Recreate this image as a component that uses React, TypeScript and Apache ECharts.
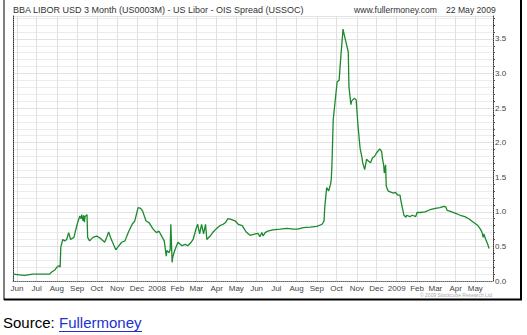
import React, { useEffect, useRef } from 'react';
import * as echarts from 'echarts';

const dates: string[] = [
  '2007-05-26','2007-06-05','2007-06-13','2007-06-25','2007-07-10','2007-07-21','2007-07-24','2007-07-29','2007-08-01','2007-08-04',
  '2007-08-06','2007-08-07','2007-08-10','2007-08-13','2007-08-16','2007-08-19','2007-08-22','2007-08-27','2007-09-01','2007-09-05',
  '2007-09-07','2007-09-08','2007-09-10','2007-09-11','2007-09-12','2007-09-13','2007-09-16','2007-09-17','2007-09-20','2007-09-25',
  '2007-10-01','2007-10-06','2007-10-13','2007-10-16','2007-10-19','2007-10-22','2007-10-25','2007-10-30','2007-11-02','2007-11-08',
  '2007-11-13','2007-11-18','2007-11-24','2007-11-28','2007-12-03','2007-12-07','2007-12-10','2007-12-15','2007-12-20','2007-12-26',
  '2007-12-31','2008-01-04','2008-01-09','2008-01-12','2008-01-15','2008-01-16','2008-01-19','2008-01-21','2008-01-22','2008-01-24',
  '2008-01-25','2008-01-28','2008-01-30','2008-02-02','2008-02-08','2008-02-13','2008-02-17','2008-02-22','2008-02-25','2008-03-01',
  '2008-03-03','2008-03-06','2008-03-09','2008-03-12','2008-03-15','2008-03-17','2008-03-22','2008-03-26','2008-04-01','2008-04-06',
  '2008-04-11','2008-04-15','2008-04-18','2008-04-23','2008-04-29','2008-05-04','2008-05-10','2008-05-14','2008-05-17','2008-05-22',
  '2008-05-30','2008-06-03','2008-06-06','2008-06-09','2008-06-11','2008-06-14','2008-06-18','2008-06-26','2008-07-07','2008-07-17',
  '2008-07-27','2008-08-03','2008-08-11','2008-08-22','2008-09-01','2008-09-09','2008-09-12','2008-09-13','2008-09-16','2008-09-19',
  '2008-09-22','2008-09-23','2008-09-24','2008-09-25','2008-09-26','2008-10-02','2008-10-05','2008-10-08','2008-10-11','2008-10-13',
  '2008-10-16','2008-10-19','2008-10-20','2008-10-23','2008-10-24','2008-10-28','2008-10-31','2008-11-03','2008-11-06','2008-11-09',
  '2008-11-10','2008-11-13','2008-11-16','2008-11-19','2008-11-22','2008-11-25','2008-11-28','2008-12-01','2008-12-06','2008-12-09',
  '2008-12-10','2008-12-12','2008-12-13','2008-12-15','2008-12-16','2008-12-19','2008-12-24','2008-12-27','2008-12-30','2009-01-03',
  '2009-01-06','2009-01-07','2009-01-10','2009-01-12','2009-01-15','2009-01-16','2009-01-21','2009-01-25','2009-01-30','2009-02-01',
  '2009-02-06','2009-02-13','2009-02-21','2009-03-01','2009-03-08','2009-03-14','2009-03-17','2009-03-19','2009-03-23','2009-03-31',
  '2009-04-08','2009-04-15','2009-04-21','2009-04-28','2009-05-04','2009-05-08','2009-05-11','2009-05-13','2009-05-14','2009-05-17',
  '2009-05-20','2009-05-22'
];

const spread: number[] = [
  0.10,0.09,0.08,0.10,0.10,0.10,0.13,0.16,0.20,0.22,
  0.20,0.49,0.60,0.58,0.60,0.70,0.60,0.63,0.82,0.94,
  0.90,0.96,0.87,0.95,0.85,0.93,0.96,0.63,0.58,0.63,
  0.65,0.62,0.56,0.63,0.71,0.63,0.56,0.45,0.49,0.56,
  0.58,0.70,0.82,0.87,1.06,1.05,1.01,0.87,0.84,0.75,
  0.70,0.72,0.63,0.58,0.36,0.44,0.41,0.45,0.82,0.27,
  0.35,0.44,0.49,0.56,0.51,0.53,0.51,0.56,0.60,0.77,
  0.82,0.68,0.82,0.68,0.82,0.60,0.65,0.70,0.76,0.80,
  0.82,0.85,0.90,0.89,0.87,0.82,0.80,0.74,0.70,0.66,
  0.68,0.69,0.64,0.70,0.65,0.70,0.72,0.74,0.75,0.76,
  0.75,0.75,0.77,0.78,0.79,0.82,0.87,1.06,1.35,1.30,
  1.40,1.47,1.66,2.00,2.33,2.88,2.90,3.29,3.64,3.55,
  3.43,3.31,2.81,2.55,2.60,2.64,2.62,2.23,1.92,1.78,
  1.71,1.61,1.76,1.73,1.71,1.78,1.80,1.85,1.91,1.87,
  1.78,1.68,1.56,1.68,1.37,1.30,1.28,1.27,1.28,1.24,
  1.24,1.18,1.04,0.95,0.92,0.95,0.93,0.95,0.93,0.99,
  0.99,1.00,1.03,1.05,1.06,1.08,1.07,1.02,1.01,0.98,
  0.95,0.93,0.90,0.85,0.81,0.76,0.71,0.63,0.68,0.60,
  0.53,0.47
];

const monthNames = ['Jan','Feb','Mar','Apr','May','Jun','Jul','Aug','Sep','Oct','Nov','Dec'];
const axisStart = '2007-05-26';
const axisEnd = '2009-05-28';
const yMax = 3.83;
const yStep = 0.5;

const titleText = 'BBA LIBOR USD 3 Month (US0003M) - US Libor - OIS Spread (USSOC)';
const siteText = 'www.fullermoney.com';
const dateText = '22 May 2009';
const copyrightText = '\u00A9 2009 Stockcube Research Ltd';
const sourceLabel = 'Source: ';
const sourceLink = 'Fullermoney';

const FONT = '"Liberation Sans", Arial, sans-serif';

function toTs(s: string): number {
  const [y, m, d] = s.split('-').map(Number);
  return new Date(y, m - 1, d).getTime();
}

export default function App() {
  const ref = useRef<HTMLDivElement>(null);
  useEffect(() => {
    if (!ref.current) return;
    const chart = echarts.init(ref.current, undefined, { renderer: 'svg' });
    const data = dates.map((d, i) => [toTs(d), spread[i]]);
    chart.setOption({
      animation: false,
      backgroundColor: '#ffffff',
      grid: { left: 13, right: 34, top: 16, bottom: 54 },
      xAxis: {
        type: 'time',
        min: toTs(axisStart),
        max: toTs(axisEnd),
        minInterval: 28 * 86400000,
        maxInterval: 31 * 86400000,
        axisLine: { show: true, lineStyle: { color: '#666', type: 'dotted', width: 1 } },
        axisTick: { show: false },
        splitLine: { show: true, lineStyle: { color: '#e0e0e0', width: 1 } },
        axisLabel: {
          fontSize: 8,
          fontFamily: FONT,
          color: '#444',
          margin: 3,
          showMinLabel: false,
          showMaxLabel: false,
          hideOverlap: false,
          formatter: (v: number) => {
            const d = new Date(v);
            return d.getMonth() === 0 ? String(d.getFullYear()) : monthNames[d.getMonth()];
          },
        },
      },
      yAxis: [
        {
          type: 'value',
          position: 'right',
          min: 0,
          max: yMax,
          interval: yStep,
          axisLine: { show: true, lineStyle: { color: '#333', type: 'dotted', width: 1 } },
          axisTick: { show: false },
          minorTick: { show: true, splitNumber: 5, length: 2, lineStyle: { color: '#555' } },
          splitLine: { show: true, lineStyle: { color: '#e2e2e2' } },
          minorSplitLine: { show: true, lineStyle: { color: '#ececec' } },
          axisLabel: {
            fontSize: 8,
            fontFamily: FONT,
            color: '#444',
            margin: 2,
            showMaxLabel: false,
            formatter: (v: number) => v.toFixed(1),
          },
        },
        {
          type: 'value',
          position: 'left',
          min: 0,
          max: yMax,
          interval: yStep,
          axisLine: { show: true, lineStyle: { color: '#333', type: 'dotted', width: 1 } },
          axisTick: { show: false },
          axisLabel: { show: false },
          splitLine: { show: false },
        },
      ],
      series: [
        {
          type: 'line',
          yAxisIndex: 0,
          data,
          showSymbol: false,
          lineStyle: { color: '#1b8a2c', width: 1.3 },
          itemStyle: { color: '#1b8a2c' },
        },
      ],
      graphic: [
        { type: 'line', shape: { x1: 4, y1: 0, x2: 4, y2: 300 }, style: { stroke: '#000', lineWidth: 1 } },
        { type: 'line', shape: { x1: 521, y1: 0, x2: 521, y2: 300 }, style: { stroke: '#000', lineWidth: 2 } },
        { type: 'line', shape: { x1: 4, y1: 299.5, x2: 522, y2: 299.5 }, style: { stroke: '#000', lineWidth: 2 } },
        { type: 'text', left: 13, top: 5, style: { text: titleText, fontSize: 9, fontFamily: FONT, fill: '#333' } },
        { type: 'text', left: 354, top: 5, style: { text: siteText, fontSize: 8.6, fontFamily: FONT, fill: '#333' } },
        { type: 'text', left: 446, top: 5, style: { text: dateText, fontSize: 8.6, fontFamily: FONT, fill: '#333' } },
        { type: 'text', left: 420, top: 292, style: { text: copyrightText, fontSize: 5, fontFamily: FONT, fill: '#aaa' } },
        { type: 'text', left: 3, top: 315, style: { text: sourceLabel, fontSize: 15, fontFamily: FONT, fill: '#000' } },
        { type: 'text', left: 59, top: 315, style: { text: sourceLink, fontSize: 15, fontFamily: FONT, fill: '#2233cc' } },
        { type: 'line', shape: { x1: 59, y1: 331.5, x2: 142, y2: 331.5 }, style: { stroke: '#2233cc', lineWidth: 1 } },
      ],
    });
    return () => chart.dispose();
  }, []);
  return <div ref={ref} style={{ position: 'fixed', left: 0, top: 0, width: 527, height: 335 }} />;
}
